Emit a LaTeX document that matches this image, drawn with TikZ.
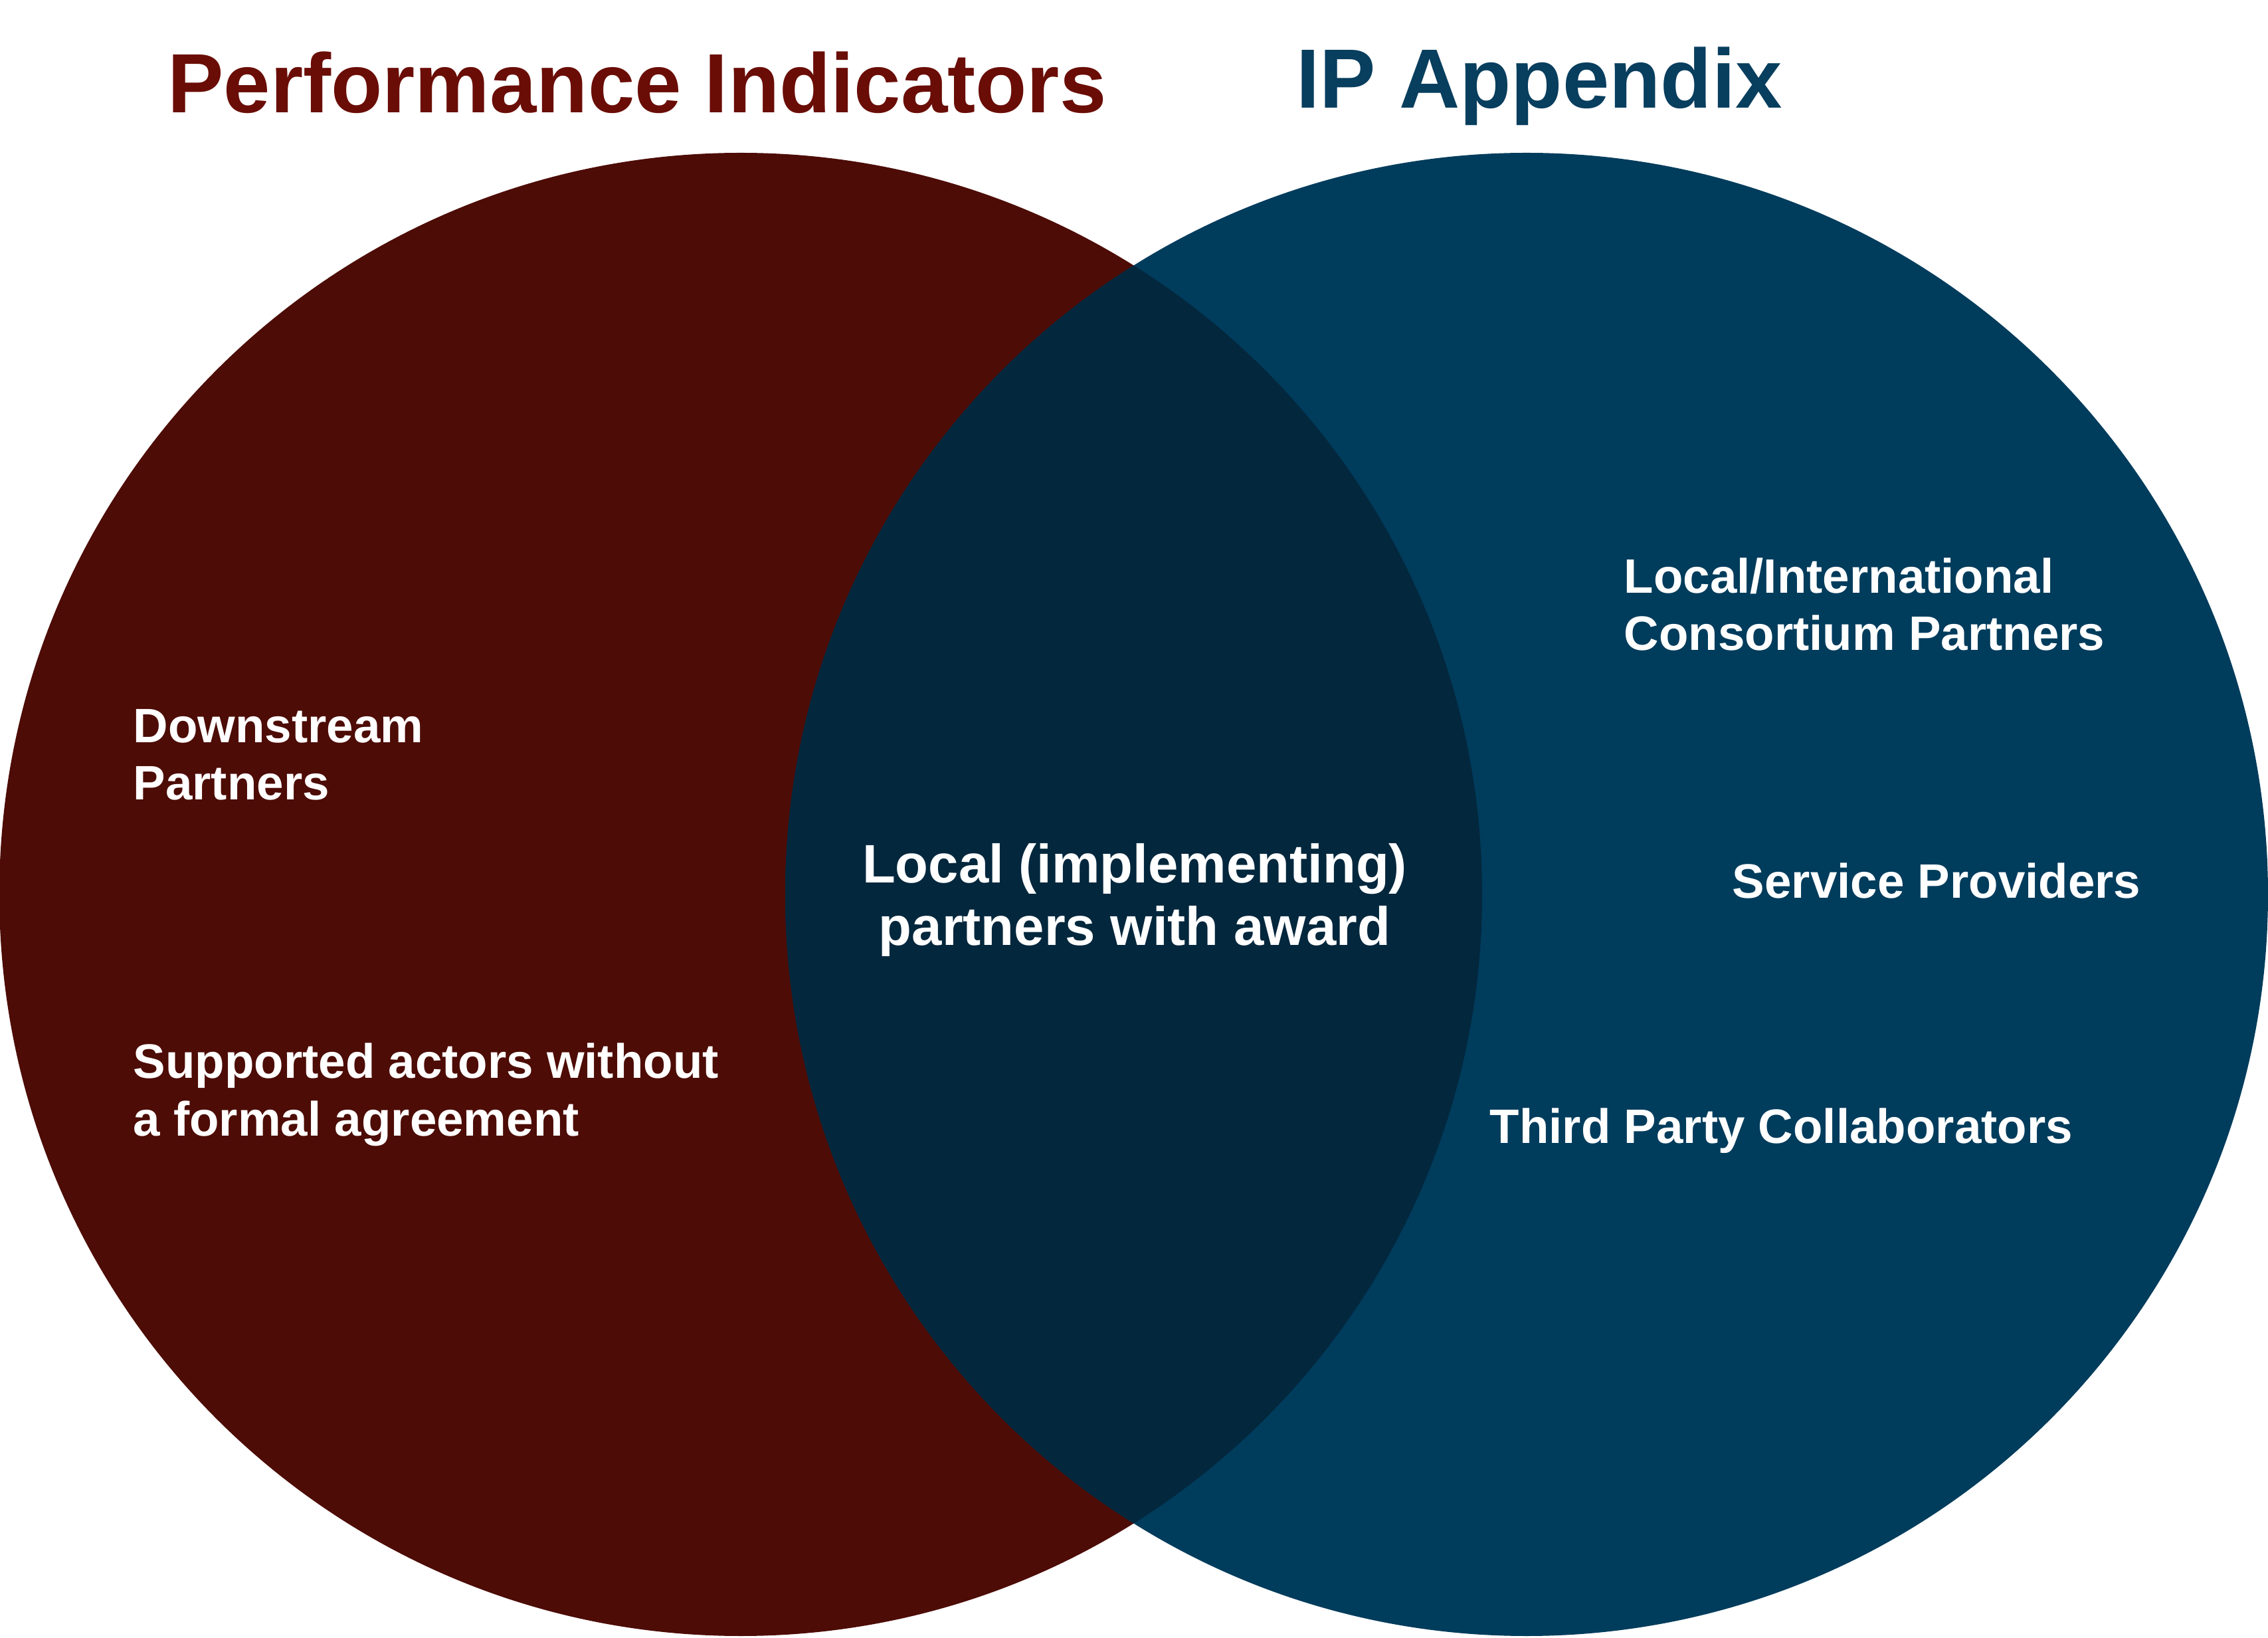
\documentclass[tikz,border=0pt]{standalone}
\usepackage{fontspec}
\setmainfont{Liberation Sans}
\usepackage{tikz}

\definecolor{pired}{RGB}{77,12,6}
\definecolor{ipblue}{RGB}{0,60,92}
\definecolor{overlap}{RGB}{3,39,61}
\definecolor{pititle}{RGB}{106,13,6}
\definecolor{iptitle}{RGB}{8,62,94}

\begin{document}
\begin{tikzpicture}[
  item/.style={text=white,inner sep=0,align=left,anchor=base west,
    font=\bfseries\fontsize{20.7}{24.75}\selectfont},
  heading/.style={inner sep=0,anchor=base,font=\bfseries\fontsize{36}{40}\selectfont}]
\useasboundingbox (0,0) rectangle (34.14,24.64);
\fill[pired] (11.15,11.18) circle(11.16);
\fill[ipblue] (22.98,11.18) circle(11.16);
\begin{scope}
\clip (11.15,11.18) circle(11.16);
\fill[overlap] (22.98,11.18) circle(11.16);
\end{scope}
\node[heading,text=pititle] (pi) at (9.59,22.94) {Performance Indicators};
\node[heading,text=iptitle] (ip) at (23.17,23.01) {IP Appendix};
\node[item] (down) at (2.00,12.60) {Downstream\\Partners};
\node[item] (actors) at (2.00,7.55) {Supported actors without\\a formal agreement};
\node[item,align=center,anchor=base,font=\bfseries\fontsize{23.2}{27}\selectfont]
  (award) at (17.08,10.41) {Local (implementing)\\partners with award};
\node[item] (consort) at (24.44,14.85) {Local/International\\Consortium Partners};
\node[item] (service) at (26.07,11.12) {Service Providers};
\node[item] (third) at (22.42,7.43) {Third Party Collaborators};
\end{tikzpicture}
\end{document}
